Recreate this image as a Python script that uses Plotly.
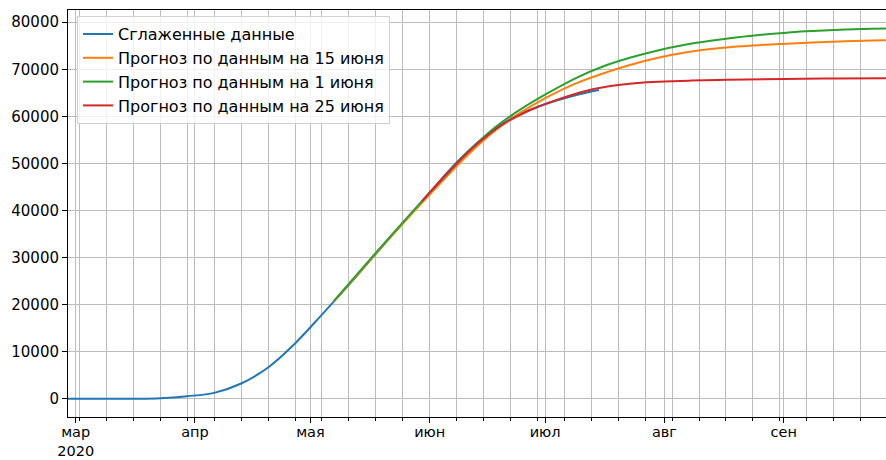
import pandas as pd
import plotly.graph_objects as go

# Smoothed cumulative cases
smooth_dates = ["2020-02-28", "2020-03-02", "2020-03-09", "2020-03-16", "2020-03-23", "2020-03-30",
                "2020-04-06", "2020-04-13", "2020-04-20", "2020-04-27", "2020-05-04",
                "2020-05-11", "2020-05-18", "2020-05-25", "2020-06-01", "2020-06-08",
                "2020-06-15", "2020-06-22", "2020-06-29", "2020-07-06", "2020-07-13", "2020-07-15"]
smooth_vals = [0, 0, 10, 40, 150, 570,
               1280, 3270, 6670, 11770, 17900,
               24200, 30800, 37300, 43800, 50200,
               55500, 59500, 62000, 63850, 65300, 65600]

# Forecast built on data up to 15 June
f15_dates = ["2020-05-07", "2020-05-14", "2020-05-21", "2020-05-28", "2020-06-04", "2020-06-11",
             "2020-06-18", "2020-06-25", "2020-07-02", "2020-07-09", "2020-07-16", "2020-07-23",
             "2020-07-30", "2020-08-06", "2020-08-13", "2020-08-20", "2020-08-27", "2020-09-03",
             "2020-09-10", "2020-09-17", "2020-09-24", "2020-09-30"]
f15_vals = [20600, 27100, 33600, 39900, 46000, 51900,
            57000, 61000, 64300, 67000, 69100, 70900,
            72400, 73500, 74300, 74850, 75200, 75500,
            75750, 75950, 76100, 76250]

# Forecast built on data up to 1 June
f01_dates = f15_dates
f01_vals = [20700, 27300, 33800, 40200, 46400, 52500,
            57700, 61700, 65100, 68150, 70600, 72450,
            73950, 75150, 76050, 76800, 77400, 77900,
            78200, 78450, 78600, 78700]

# Forecast built on data up to 25 June
f25_dates = ["2020-05-30", "2020-06-06", "2020-06-13", "2020-06-20", "2020-06-27", "2020-07-04",
             "2020-07-11", "2020-07-18", "2020-07-25", "2020-08-01", "2020-08-08", "2020-08-15",
             "2020-08-22", "2020-09-01", "2020-09-15", "2020-09-30"]
f25_vals = [42000, 48300, 53900, 58300, 61300, 63500,
            65300, 66450, 67100, 67400, 67600, 67750,
            67850, 67950, 68050, 68100]

series = [
    ("Сглаженные данные", smooth_dates, smooth_vals, "#1f77b4"),
    ("Прогноз по данным на 15 июня", f15_dates, f15_vals, "#ff7f0e"),
    ("Прогноз по данным на 1 июня", f01_dates, f01_vals, "#2ca02c"),
    ("Прогноз по данным на 25 июня", f25_dates, f25_vals, "#d62728"),
]

month_ticks = ["2020-03-01", "2020-04-01", "2020-05-01", "2020-06-01",
               "2020-07-01", "2020-08-01", "2020-09-01"]
month_labels = ["мар<br>2020", "апр", "мая", "июн", "июл", "авг", "сен"]
week_ticks = [d.strftime("%Y-%m-%d") for d in pd.date_range("2020-03-02", "2020-09-28", freq="W-MON")]

y_ticks = list(range(0, 80001, 10000))

FONT = "DejaVu Sans"
GRID = "#bcbcbc"

fig = go.Figure()
for i, (name, d, v, c) in enumerate(series):
    fig.add_trace(go.Scatter(
        x=pd.to_datetime(d), y=v, name=name, mode="lines",
        line=dict(color=c, width=2, shape="spline", smoothing=1.0),
        legendgroup=f"g{i}",
    ))

fig.update_layout(
    width=886, height=460,
    margin=dict(l=68, r=0, t=10, b=43, autoexpand=False),
    paper_bgcolor="white", plot_bgcolor="white",
    font=dict(family=FONT, size=15, color="black"),
    showlegend=True,
    legend=dict(
        x=0.011, y=0.985, xanchor="left", yanchor="top",
        bgcolor="rgba(255,255,255,0.8)", bordercolor="#d0d0d0", borderwidth=1,
        font=dict(family=FONT, size=16), tracegroupgap=0,
    ),
    xaxis=dict(
        range=["2020-02-28", "2020-09-27 14:00"],
        tickvals=month_ticks, ticktext=month_labels, tickangle=0,
        automargin=False, ticklabelstandoff=-3,
        showgrid=True, gridcolor=GRID, gridwidth=1.2,
        ticks="outside", ticklen=5, tickwidth=1, tickcolor="black",
        showline=True, linecolor="black", linewidth=1, mirror=True,
        zeroline=False,
        tickfont=dict(family=FONT, size=14.5),
        minor=dict(tickvals=week_ticks, showgrid=True, gridcolor=GRID, gridwidth=1.2,
                   ticks="outside", ticklen=3, tickcolor="black"),
    ),
    yaxis=dict(
        range=[-3850, 82600],
        tickvals=y_ticks, ticktext=[str(t) for t in y_ticks],
        automargin=False,
        showgrid=True, gridcolor=GRID, gridwidth=1.2,
        ticks="outside", ticklen=5, tickwidth=1, tickcolor="black",
        showline=True, linecolor="black", linewidth=1,
        zeroline=False,
    ),
)

fig.write_html("out.html")
